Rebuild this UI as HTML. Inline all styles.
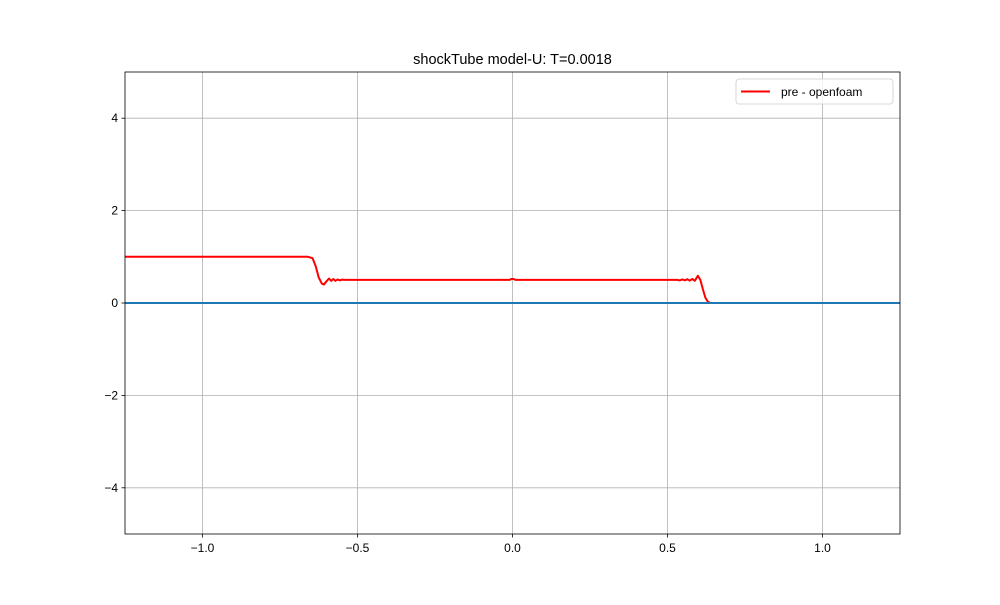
<!DOCTYPE html>
<html><head><meta charset="utf-8"><style>
body{margin:0;background:#fff;font-family:"Liberation Sans","DejaVu Sans",sans-serif}
</style></head><body>
<svg id="c" width="1000" height="600" xmlns="http://www.w3.org/2000/svg"></svg>
<script>
const xTicks=[-1.0,-0.5,0.0,0.5,1.0];
const xTickLabels=["\u22121.0","\u22120.5","0.0","0.5","1.0"];
const yTicks=[-4,-2,0,2,4];
const yTickLabels=["\u22124","\u22122","0","2","4"];
const preX=[-1.25,-0.66,-0.645,-0.635,-0.625,-0.615,-0.608,-0.600,-0.592,-0.585,-0.578,-0.571,-0.564,-0.557,-0.55,-0.54,-0.01,-0.003,0.003,0.01,0.53,0.54,0.548,0.556,0.564,0.572,0.58,0.588,0.598,0.606,0.614,0.622,0.63,0.638,0.645,0.66,1.25];
const preY=[1.0,1.0,0.97,0.8,0.55,0.42,0.4,0.47,0.53,0.48,0.52,0.48,0.51,0.49,0.505,0.5,0.5,0.52,0.52,0.5,0.5,0.49,0.51,0.49,0.515,0.485,0.52,0.48,0.59,0.5,0.3,0.12,0.03,0.0,0.0,0.0,0.0];
const zeroX=[-1.25,1.25];
const zeroY=[0,0];
const L=125,R=900,T=72,B=534,xmin=-1.25,xmax=1.25,ymin=-5,ymax=5;
const sx=v=>L+(v-xmin)/(xmax-xmin)*(R-L);
const sy=v=>B-(v-ymin)/(ymax-ymin)*(B-T);
const svg=document.getElementById('c');const NS='http://www.w3.org/2000/svg';
function mk(t,a,p){const e=document.createElementNS(NS,t);for(const k in a)e.setAttribute(k,a[k]);(p||svg).appendChild(e);return e;}
let g=mk('g',{});


xTicks.forEach((v,i)=>{const x=sx(v);
 const l=mk('line',{x1:x,x2:x,y1:T,y2:B,stroke:'#b0b0b0','stroke-width':0.8},g);
 
 
 const tk=mk('line',{x1:x,x2:x,y1:B,y2:B+3.5,stroke:'#000','stroke-width':0.8});
 
 
 const t=mk('text',{x:x,y:B+18,'text-anchor':'middle','font-size':12});t.textContent=xTickLabels[i];
 
 });
yTicks.forEach((v,i)=>{const y=sy(v);
 const l=mk('line',{x1:L,x2:R,y1:y,y2:y,stroke:'#b0b0b0','stroke-width':0.8},g);
 
 
 const tk=mk('line',{x1:L-3.5,x2:L,y1:y,y2:y,stroke:'#000','stroke-width':0.8});
 
 
 const t=mk('text',{x:L-7,y:y+4,'text-anchor':'end','font-size':12});t.textContent=yTickLabels[i];
 
 });
const p=mk('polyline',{points:preX.map((v,i)=>sx(v)+','+sy(preY[i])).join(' '),fill:'none',stroke:'#ff0000','stroke-width':2,'stroke-linejoin':'round'});


const z=mk('polyline',{points:zeroX.map((v,i)=>sx(v)+','+sy(zeroY[i])).join(' '),fill:'none',stroke:'#1f77b4','stroke-width':2});


const fr=mk('rect',{x:L,y:T,width:R-L,height:B-T,fill:'none',stroke:'#000','stroke-width':0.8});


const ti=mk('text',{x:(L+R)/2,y:T-8,'text-anchor':'middle','font-size':14.5});ti.textContent='shockTube model-U: T=0.0018';


const lg=mk('g',{});


mk('rect',{x:736,y:79,width:157,height:25,rx:3,fill:'#fff','fill-opacity':0.8,stroke:'#ccc','stroke-width':0.8},lg);
mk('line',{x1:741,x2:770,y1:91.5,y2:91.5,stroke:'#ff0000','stroke-width':2},lg);
const lt=mk('text',{x:781,y:96,'font-size':12},lg);lt.textContent='pre - openfoam';


</script>
</body></html>
